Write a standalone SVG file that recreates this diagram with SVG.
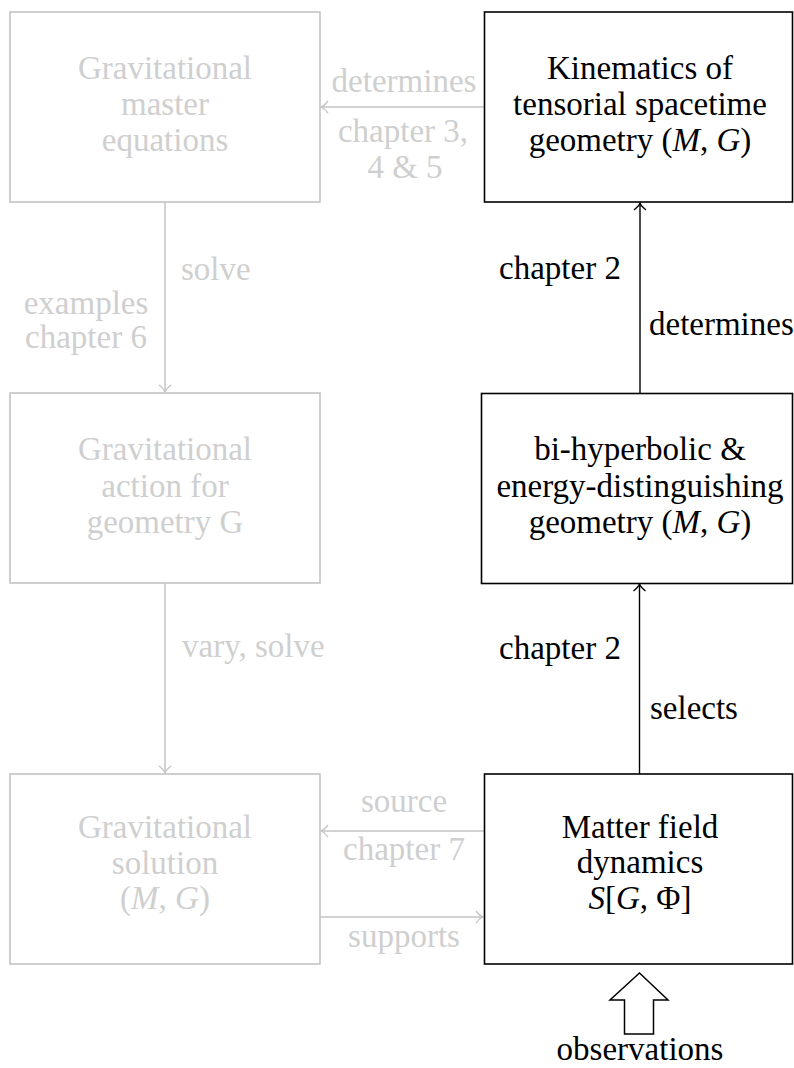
<svg xmlns="http://www.w3.org/2000/svg" width="794" height="1068" viewBox="0 0 794 1068" font-family="'Liberation Serif', 'DejaVu Serif', 'Times New Roman', Times, serif">
<style>
text{font-family:'Liberation Serif','DejaVu Serif','Times New Roman',Times,serif;font-size:33px;}
.c{text-anchor:middle}
.s{text-anchor:start}
.e{text-anchor:end}
.g{fill:#cfcfcf}
.k{fill:#000}
.bx{fill:#fff;stroke-width:1.6}
.bg{stroke:#c4c4c4}
.bk{stroke:#000}
.lg{stroke:#c4c4c4;stroke-width:1.5;fill:none}
.lk{stroke:#000;stroke-width:1.4;fill:none}
.i{font-style:italic}
</style>
<defs>
<marker id="ag" markerUnits="userSpaceOnUse" markerWidth="20" markerHeight="20" refX="10" refY="10" orient="auto" overflow="visible">
<path d="M3,4 Q7,9 10,10 Q7,11 3,16" fill="none" stroke="#c4c4c4" stroke-width="1.3"/>
</marker>
<marker id="ak" markerUnits="userSpaceOnUse" markerWidth="20" markerHeight="20" refX="10" refY="10" orient="auto" overflow="visible">
<path d="M3,4 Q7,9 10,10 Q7,11 3,16" fill="none" stroke="#000" stroke-width="1.3"/>
</marker>
</defs>
<rect width="794" height="1068" fill="#fff"/>

<g id="connectors">
<path class="lg" d="M484,107 H321" marker-end="url(#ag)"/>
<path class="lg" d="M165,202 V392" marker-end="url(#ag)"/>
<path class="lg" d="M165,583 V773" marker-end="url(#ag)"/>
<path class="lg" d="M484,831 H321" marker-end="url(#ag)"/>
<path class="lg" d="M320,917 H483" marker-end="url(#ag)"/>
<path class="lk" d="M640,393 V203" marker-end="url(#ak)"/>
<path class="lk" d="M639.5,774 V584" marker-end="url(#ak)"/>
<text class="c g" x="404" y="92">determines</text>
<text class="c g" x="403" y="142">chapter 3,</text>
<text class="c g" x="405" y="178">4 &amp; 5</text>
<text class="s g" x="181" y="280">solve</text>
<text class="c g" x="86" y="314">examples</text>
<text class="c g" x="86" y="348">chapter 6</text>
<text class="s g" x="182" y="657">vary, solve</text>
<text class="c g" x="404" y="812">source</text>
<text class="c g" x="404" y="860">chapter 7</text>
<text class="c g" x="404" y="947">supports</text>
<text class="c k" x="560" y="279">chapter 2</text>
<text class="s k" x="649" y="335">determines</text>
<text class="c k" x="560" y="659">chapter 2</text>
<text class="s k" x="650" y="719">selects</text>
</g>

<g id="n-master">
<rect class="bx bg" x="10" y="12" width="310" height="190"/>
<text class="c g" x="165" y="79">Gravitational</text>
<text class="c g" x="165" y="115">master</text>
<text class="c g" x="165" y="151">equations</text>
</g>

<g id="n-action">
<rect class="bx bg" x="10" y="393" width="310" height="190"/>
<text class="c g" x="165" y="460">Gravitational</text>
<text class="c g" x="165" y="497">action for</text>
<text class="c g" x="165" y="533">geometry G</text>
</g>

<g id="n-solution">
<rect class="bx bg" x="10" y="774" width="310" height="190"/>
<text class="c g" x="165" y="838">Gravitational</text>
<text class="c g" x="165" y="874">solution</text>
<text class="c g" x="165" y="909">(<tspan class="i">M</tspan>, <tspan class="i">G</tspan>)</text>
</g>

<g id="n-kinematics">
<rect class="bx bk" x="484.5" y="12" width="308" height="190"/>
<text class="c k" x="640" y="79">Kinematics of</text>
<text class="c k" x="640" y="115">tensorial spacetime</text>
<text class="c k" x="640" y="151">geometry (<tspan class="i">M</tspan>, <tspan class="i">G</tspan>)</text>
</g>

<g id="n-hyperbolic">
<rect class="bx bk" x="481.5" y="393.5" width="311" height="190"/>
<text class="c k" x="640" y="460">bi-hyperbolic &amp;</text>
<text class="c k" x="640" y="497">energy-distinguishing</text>
<text class="c k" x="640" y="533">geometry (<tspan class="i">M</tspan>, <tspan class="i">G</tspan>)</text>
</g>

<g id="n-matter">
<rect class="bx bk" x="484.5" y="774" width="308" height="190"/>
<text class="c k" x="640" y="838">Matter field</text>
<text class="c k" x="640" y="873">dynamics</text>
<text class="c k" x="640" y="909"><tspan class="i">S</tspan>[<tspan class="i">G</tspan>, Φ]</text>
</g>

<g id="n-observations">
<path d="M639.5,973 L668,1000 L653.5,1000 L653.5,1034 L624.5,1034 L624.5,1000 L610,1000 Z" fill="#fff" stroke="#000" stroke-width="1.5" stroke-linejoin="miter"/>
<text class="c k" x="640" y="1060">observations</text>
</g>
</svg>
